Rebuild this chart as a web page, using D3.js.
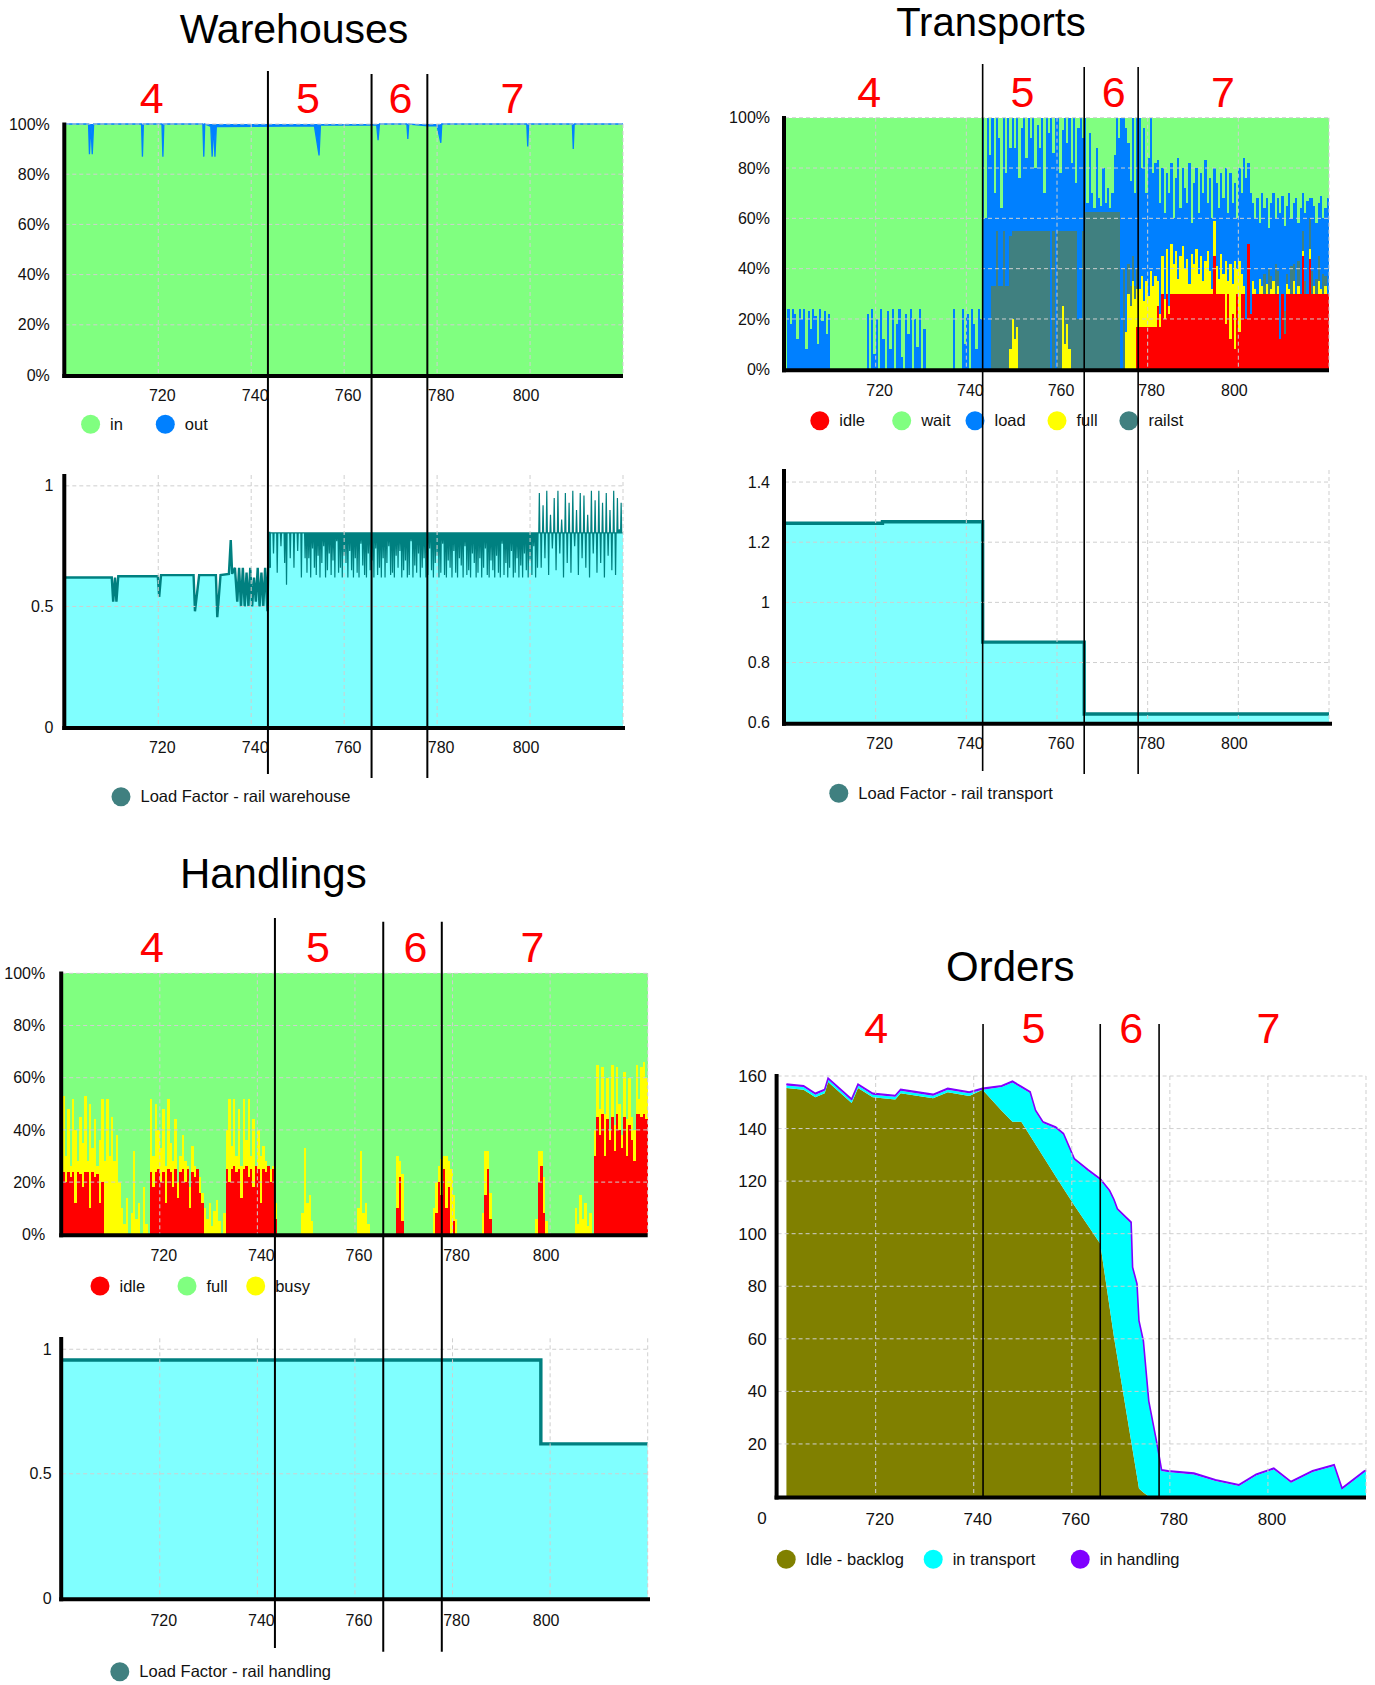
<!DOCTYPE html>
<html>
<head>
<meta charset="utf-8">
<title>Rail simulation - phases 4 to 7</title>
<script src="https://cdn.jsdelivr.net/npm/d3@7"></script>
<style>
  body { margin: 0; background: #fff; }
  svg { display: block; font-family: 'Liberation Sans', Arial, sans-serif; }
  .grid line { stroke: #cfcfcf; stroke-width: 1; stroke-dasharray: 4,3; }
  .axis text { font-family: 'Liberation Sans', Arial, sans-serif; fill: #111; }
</style>
</head>
<body>
<div id="chart"></div>
<script>
/// colours ////////////////////////////////
const GREEN = '#80ff80'
const BLUE = '#0080ff'
const RED = '#ff0000'
const YELLOW = '#ffff00'
const RAILST = '#408080'
const CYAN_FILL = '#80ffff'
const TEAL = '#008080'
const OLIVE = '#808000'
const CYAN = '#00ffff'
const PURPLE = '#8000ff'

/// shared time axis ////////////////////////
const xTicks = [720, 740, 760, 780, 800]
const xGridValues = [720, 740, 760, 780, 800, 820]
const phaseNames = ['4', '5', '6', '7']
const gridStep = 0.5
const gridTimes = d3.range(700, 820.001, gridStep) // sampled every half unit

/// Warehouses - share "in" (%), out is the rest //////
const warehouseIn = [
  [700, 100], [705, 100], [705.2, 88], [705.5, 100], [705.8, 88], [706.1, 100],
  [716.4, 100], [716.6, 87], [716.8, 100], [720.8, 100], [721, 87], [721.2, 100],
  [729.6, 100], [729.8, 87], [730, 100], [731.3, 99], [731.6, 87], [731.9, 100],
  [732.2, 87], [732.5, 99], [748, 99.2], [753.6, 99.2], [754.6, 87.5], [754.9, 99.6],
  [767, 99.6], [767.3, 93.5], [767.6, 100], [773.5, 100], [773.7, 94], [773.9, 100],
  [778, 99.3], [780, 99.3], [780.8, 92.5], [781, 100], [799.3, 100], [799.5, 91],
  [799.7, 100], [809.1, 100], [809.3, 90], [809.5, 100], [820, 100]
]

/// Warehouses - load factor //////////////////
const warehouseLoadEarly = [
  [700, 0.62], [710, 0.62], [710.3, 0.52], [710.7, 0.62], [711, 0.52], [711.4, 0.625],
  [719.9, 0.625], [720.2, 0.54], [720.6, 0.63], [727.6, 0.63], [727.9, 0.48], [728.8, 0.63],
  [732.4, 0.63], [732.7, 0.455], [733.4, 0.63], [735.2, 0.635], [735.6, 0.775], [735.9, 0.635],
  [736.5, 0.66], [737, 0.52], [737.4, 0.66], [737.8, 0.5], [738.2, 0.66], [738.6, 0.5],
  [739, 0.64], [739.4, 0.5], [739.8, 0.66], [740.2, 0.5], [740.6, 0.62], [741, 0.52],
  [741.4, 0.66], [741.8, 0.5], [742.2, 0.64], [742.6, 0.5], [743, 0.66], [743.5, 0.48]
]
// from 744 on the factor sits at a plateau with short spikes, one every 0.4 units
const warehousePlateau = 0.805
const warehouseSpikeStart = 744
const warehouseSpikeStep = 0.4
const warehouseSpikes = [
  0.66, 0.805, 0.72, 0.805, 0.64, 0.805, 0.75, 0.805, 0.68, 0.59, 0.805, 0.70, 0.805, 0.66, 0.805, 0.73, 0.805, 0.62, 0.805, 0.70,
  0.64, 0.70, 0.62, 0.74, 0.66, 0.63, 0.71, 0.62, 0.68, 0.75, 0.62, 0.65, 0.72, 0.63, 0.69, 0.62, 0.77, 0.64, 0.66, 0.62, 0.71, 0.68, 0.62, 0.73, 0.65,
  0.62, 0.70, 0.64, 0.62, 0.76, 0.67, 0.63, 0.62, 0.72, 0.65, 0.69, 0.62, 0.74, 0.63, 0.66, 0.62, 0.70, 0.62, 0.68, 0.75, 0.63, 0.64, 0.62, 0.71, 0.66,
  0.73, 0.62, 0.65, 0.69, 0.62, 0.63, 0.77, 0.62, 0.67, 0.64, 0.72, 0.62, 0.66, 0.70, 0.62, 0.63, 0.74, 0.65, 0.62, 0.68, 0.71, 0.62, 0.64, 0.76, 0.63,
  0.62, 0.69, 0.66, 0.62, 0.73, 0.64, 0.62, 0.70, 0.67, 0.62, 0.75, 0.63, 0.65, 0.62, 0.72, 0.68, 0.62, 0.64, 0.70, 0.62, 0.66, 0.74, 0.63, 0.62, 0.69,
  0.65, 0.62, 0.71, 0.64, 0.62, 0.76, 0.63, 0.68, 0.62, 0.66, 0.73, 0.62, 0.64, 0.70, 0.62, 0.67, 0.62, 0.72, 0.65, 0.62, 0.69, 0.63, 0.75, 0.62, 0.66,
  0.97, 0.66, 0.92, 0.70, 0.98, 0.63, 0.88, 0.74, 0.95, 0.65, 0.98, 0.72, 0.86, 0.62, 0.97, 0.68, 0.93, 0.64, 0.98, 0.75, 0.90, 0.63,
  0.97, 0.70, 0.96, 0.66, 0.88, 0.62, 0.98, 0.72, 0.94, 0.64, 0.98, 0.68, 0.93, 0.62, 0.97, 0.71, 0.90, 0.65, 0.98, 0.63, 0.95, 0.82, 0.93
]

/// Transports - state shares (%), [start time, readings every half unit] ////
const transportIdle = [
  [777.5, [17, 17, 17, 17, 17, 17, 17, 17, 17]],
  [782, [25, 17, 30, 20, 30, 22, 30, 30, 30, 30, 30, 30, 30, 30, 30, 30, 30, 30, 30, 30, 30, 30, 30, 30, 30, 45, 30, 30, 30, 30]],
  [797, [18, 30, 12, 22, 8, 30, 15, 30]],
  [801, [30, 20, 50, 22, 30, 30, 30, 30, 30, 30, 30, 30, 30, 30, 30, 30, 12, 30, 14, 30, 30, 30, 30, 30, 30, 30, 45, 30, 30, 44, 30, 30, 30, 30, 30, 30, 30, 30, 30]]
]
const transportFull = [
  [749.5, [8, 20, 12, 17]],
  [761, [25, 10, 18, 8]],
  [775, [15, 30, 25, 35, 28, 15]],
  [778, [15, 20, 10, 18, 12, 22, 16, 20]],
  [782, [10, 5, 15, 8, 18, 3, 20, 12, 17, 6, 15, 19, 10, 14, 4, 16, 12, 18, 8, 15, 5, 13, 17, 9, 2, 14, 11, 6, 16, 8]],
  [797, [25, 5, 30, 12, 35, 10, 28, 8]],
  [801, [3, 0, 0, 0, 5, 2, 0, 6, 3, 0, 4, 0, 2, 5, 0, 3, 0, 0, 0, 4, 2, 0, 5, 0, 3, 0, 2, 0, 0, 4, 0, 3, 0, 5, 2, 0, 3, 0, 4]]
]
const transportRailst = [
  [745.5, [33, 33, 55, 33, 33, 55, 33, 33, 45]],
  [750, [35, 43, 38, 55, 55, 55, 55, 55, 55, 55, 55, 55, 55, 55, 55, 55, 55, 0, 55, 0, 55, 55, 30, 45, 37, 47, 55, 55, 55, 20, 20, 55]],
  [766, [62.5, 62.5, 62.5, 62.5, 62.5, 62.5, 62.5, 62.5, 62.5, 62.5, 62.5, 62.5, 62.5, 62.5, 62.5, 62.5, 0, 40, 0, 12, 8, 10, 5, 8]],
  [805.5, [8, 0, 10, 5, 0, 12, 6, 0, 0, 9, 4, 0, 11, 7, 0, 10, 0, 8, 5, 0, 12, 9, 0, 6, 10, 0, 8, 4, 0]]
]
const transportLoad = [
  [700.5, [24, 18, 24, 22, 12, 24, 20, 24, 8, 23, 16, 24, 21, 10, 24, 19, 23, 14, 22]],
  [718, [22, 0, 24, 6, 20, 0, 24, 12, 0, 23, 8, 24, 0, 18, 24, 5, 0, 22, 14, 24, 0, 20, 9, 24, 0, 16]],
  [737, [24]],
  [739, [24, 10, 22, 0, 24, 18, 8, 24, 20]],
  [743.5, [100, 60, 100, 85]],
  [745.5, [67, 37, 45, 59, 31, 45, 45, 67, 35]],
  [750, [45, 33, 45, 21, 41, 45, 29, 45, 37, 45, 25, 42, 33, 45, 15, 45, 39, 100, 31, 100, 45, 23, 40, 45, 35, 45, 27, 45, 19, 76, 80, 37]],
  [766, [37.5, 3.5, 31.5, 7.5, 1.5, 25.5, 5.5, 2.5, 17.5, 3.5, 9.5, 1.5, 7.5, 22.5, 37.5, 29.5, 100, 60, 81]],
  [775.5, [48, 42, 55, 37, 60]],
  [778, [68, 43, 69, 35, 55, 61, 45, 45]],
  [782, [48, 44, 35, 34, 30, 45, 32, 18, 29, 48, 19, 31, 32, 22, 48, 12, 32, 32, 24, 33, 35, 40, 19, 37, 28, 21, 33, 28, 32, 30]],
  [797, [37, 27, 36, 32, 31, 20, 37, 32]],
  [801, [51, 56, 32, 48, 31, 28, 38, 22, 37, 26, 34, 16, 29, 35, 18, 29, 50, 39, 34, 27, 38, 19, 24, 38, 15, 34, 15, 27, 37, 8, 29, 32, 22, 21, 37, 22, 27, 38, 28]]
]

/// Transports - load factor (steps) ////////
const transportLoadFactor = [[700, 1.263], [721.5, 1.268], [743.6, 0.868], [766, 0.629], [820, 0.629]]

/// Handlings - state shares (%) //////////////
const handlingIdle = [
  [700, [24, 20, 24, 22, 24, 12, 24, 23, 18, 24, 24, 10, 24, 22, 23, 12, 20]],
  [718, [24, 18, 24, 25, 20, 24, 12, 25, 24, 18, 25, 14, 24, 25, 20, 25, 10, 24, 22, 25, 16]],
  [728.5, [12]],
  [733.5, [25, 20, 25, 26, 24, 25, 14, 25, 26, 22, 25, 18, 26, 25, 12, 25, 24, 26, 20, 25, 6]],
  [768.5, [10, 22, 5]],
  [776.5, [8, 20, 15, 25, 10, 18, 0, 5]],
  [786.5, [15, 25, 6]],
  [797.5, [20, 26, 8]],
  [809, [30, 45, 38, 46, 30, 44, 36, 45, 32, 46, 40, 33, 45, 30, 42, 36, 28, 46, 46, 45, 46, 44, 40]]
]
const handlingBusy = [
  [700, [29, 10, 24, 4, 28, 28, 4, 22, 17, 29, 4, 40, 9, 22, 3, 24, 32, 28, 52, 30, 45, 28, 38, 20, 10, 4, 14, 0, 8, 32, 6, 12, 0, 18, 4, 0]],
  [718, [28, 12, 26, 15, 13, 24, 14, 27, 11, 10, 19, 6, 6, 13, 8, 1, 8, 10, 4, 0, 6, 4, 10, 6, 12, 3, 9, 13, 5, 0, 8]],
  [733.5, [15, 32, 9, 26, 6, 23, 12, 27, 10, 30, 5, 26, 0, 15, 18, 9, 4, 0, 5, 1, 6]],
  [749, [8, 33, 12, 15, 5]],
  [760.5, [10, 32, 8, 12, 4]],
  [768.5, [20, 6, 18]],
  [776, [10, 12, 6, 14, 5, 20, 10, 25, 10, 6]],
  [786, [8, 17, 7, 10]],
  [797, [6, 12, 6, 14, 5]],
  [805, [10, 4, 15, 6, 12, 3, 8]],
  [809, [10, 20, 10, 18, 16, 16, 4, 20, 10, 18, 10, 5, 17, 14, 18, 9, 12, 19, 6, 19, 20, 16, 22]]
]

/// Handlings - load factor (steps) /////////
const handlingLoadFactor = [[700, 0.957], [798.1, 0.62], [820, 0.62]]

/// Orders ///////////////////////////////////
const ordersTime = [
  701.8, 705.3, 707.7, 709.6, 710.3, 715.1, 716.4, 719.4, 724, 725.1, 731.7, 734.7, 739.1, 741.8,
  745.7, 747.9, 749.7, 751.5, 752.6, 754.1, 756.7, 758.3, 760.5, 763.3, 765.8,
  767.7, 768.6, 769.3, 772.1, 772.4, 773.3, 773.7, 774.6, 775.7,
  777.4, 778.3, 779.6, 784.9, 789.3, 794.1, 797.6, 801.2, 804.7, 809.1, 813.5, 815.1, 819.6, 820
]
const ordersBacklog = [
  155.4, 154.8, 151.9, 153.4, 157.7, 149.7, 155.4, 151.9, 151.1, 153.4, 151.5, 153.8, 152.4, 154.8,
  146.8, 142.6, 142.6, 137.3, 134, 129.6, 121.9, 117.2, 110.8, 103.1, 96.2,
  72.1, 60.7, 52.8, 21.1, 17.8, 7.6, 3, 1.5, 0,
  0, 0, 0, 0, 0, 0, 0, 0, 0, 0, 0, 0, 0, 0
]
const ordersTransport = [
  1, 1, 1, 1, 1, 1, 1, 1, 1, 1, 1, 1, 1, 0,
  9, 14.9, 12.9, 16.2, 12.5, 12.5, 18.2, 20.4, 17.3, 20.8, 24.2,
  43.9, 51.8, 56.2, 82.8, 68.9, 72.8, 63.4, 57.2, 35.8,
  19.3, 9.7, 9.3, 8.4, 5.9, 4, 8, 10.3, 5.2, 9.3, 11.6, 2.7, 9.1, 9.5
]
const ordersHandling = [
  0.5, 0.5, 0.5, 0.5, 0.5, 0.5, 0.5, 0.5, 0.5, 0.5, 0.5, 0.5, 0.5, 0.5,
  0.5, 0.5, 0.5, 0.5, 0.5, 0.5, 0.5, 0.5, 0.5, 0.5, 0.5,
  0.5, 0.5, 0.5, 0.5, 0.5, 0.5, 0.5, 0.5, 0.5,
  0.5, 0.5, 0.5, 0.5, 0.5, 0.5, 0.5, 0.5, 0.5, 0.5, 0.5, 0.5, 0.5, 0.5
]

/// svg ////////////////////////////////////
const svg = d3.select('#chart').append('svg')
  .attr('width', 1375)
  .attr('height', 1685)

// spread [start, readings] segments over the half-unit time grid
function expand(segments) {
  const values = gridTimes.map(() => 0)
  segments.forEach(([start, vals]) => {
    const i0 = Math.round((start - 700) / gridStep)
    vals.forEach((v, k) => {
      if (i0 + k < values.length) values[i0 + k] = v
    })
  })
  return values
}

function panel(opt) {
  const x = d3.scaleLinear().domain([700, 820]).range([opt.left, opt.right])
  const y = d3.scaleLinear().domain(opt.yDomain).range([opt.bottom, opt.top])
  const g = svg.append('g')
  const marks = g.append('g')
  return { x, y, g, marks, opt }
}

// grid on top of the fills, then axes
function decorate(p) {
  const { x, y, g, opt } = p
  const yBase = y(opt.yDomain[0])
  const fs = opt.fontSize || 16

  const grid = g.append('g').attr('class', 'grid')
  grid.selectAll('line.h').data(opt.yGrid).join('line')
    .attr('class', 'h')
    .attr('x1', x(700)).attr('x2', x(820))
    .attr('y1', d => y(d)).attr('y2', d => y(d))
  grid.selectAll('line.v').data(xGridValues).join('line')
    .attr('class', 'v')
    .attr('x1', d => x(d)).attr('x2', d => x(d))
    .attr('y1', opt.top).attr('y2', yBase)

  g.append('g')
    .attr('class', 'axis')
    .attr('transform', `translate(0,${yBase})`)
    .call(d3.axisBottom(x).tickValues(xTicks).tickSize(0).tickPadding(opt.xPad || 15))
    .call(a => a.select('.domain').remove())
    .call(a => a.selectAll('text')
      .attr('dx', d => (d === 800 && opt.shift800 ? -4.5 : 3.5))
      .style('font-size', fs + 'px'))

  const yAxis = g.append('g')
    .attr('class', 'axis')
    .attr('transform', `translate(${x(700)},0)`)
    .call(d3.axisLeft(y).tickValues(opt.yTicks).tickFormat(opt.yFormat).tickSize(0).tickPadding(opt.yPad || 15))
    .call(a => a.select('.domain').remove())
    .call(a => a.selectAll('text').style('font-size', fs + 'px'))
  if (opt.zeroDrop) {
    yAxis.selectAll('.tick').filter(d => d === 0).select('text').attr('y', opt.zeroDrop)
  }

  g.append('line')
    .attr('x1', x(700) - 1).attr('x2', x(700) - 1)
    .attr('y1', opt.axisTop).attr('y2', yBase + 3)
    .attr('stroke', '#000').attr('stroke-width', 4)
  g.append('line')
    .attr('x1', x(700) - 3).attr('x2', opt.axisRight || x(820))
    .attr('y1', yBase + 1).attr('y2', yBase + 1)
    .attr('stroke', '#000').attr('stroke-width', 4)
}

function phases(p, at, spans, labelAt, labelY, width) {
  const { x } = p
  const pg = svg.append('g')
  pg.selectAll('line').data(at).join('line')
    .attr('x1', d => x(d)).attr('x2', d => x(d))
    .attr('y1', (d, i) => spans[i][0]).attr('y2', (d, i) => spans[i][1])
    .attr('stroke', '#000').attr('stroke-width', width)
  pg.selectAll('text').data(labelAt).join('text')
    .attr('x', d => x(d)).attr('y', labelY)
    .attr('text-anchor', 'middle')
    .attr('fill', RED)
    .attr('font-size', 43)
    .text((d, i) => phaseNames[i])
}

function title(text, cx, baseline, size) {
  svg.append('text')
    .attr('x', cx).attr('y', baseline)
    .attr('text-anchor', 'middle')
    .attr('font-size', size)
    .attr('fill', '#000')
    .text(text)
}

function legend(items, cy) {
  const lg = svg.append('g')
  items.forEach(it => {
    lg.append('circle').attr('cx', it.cx).attr('cy', cy).attr('r', 9.5).attr('fill', it.color)
    lg.append('text')
      .attr('x', it.cx + 19.5).attr('y', cy).attr('dy', '0.35em')
      .attr('font-size', 16.5).attr('fill', '#111')
      .text(it.label)
  })
}

const pct = d => d + '%'
const plain = d3.format('')

/// Warehouses ///////////////////////////////
title('Warehouses', 294, 42.7, 41)

const w1 = panel({
  left: 65.3, right: 623, top: 124, bottom: 375, yDomain: [0, 100],
  yTicks: [0, 20, 40, 60, 80, 100], yGrid: [20, 40, 60, 80, 100], yFormat: pct,
  yPad: 15.5, axisTop: 122.5, shift800: true
})
w1.marks.append('path').datum(warehouseIn)
  .attr('d', d3.area().x(d => w1.x(d[0])).y0(w1.y(0)).y1(d => w1.y(d[1])))
  .attr('fill', GREEN)
w1.marks.append('path').datum(warehouseIn)
  .attr('d', d3.area().x(d => w1.x(d[0])).y0(d => w1.y(d[1])).y1(w1.y(100)))
  .attr('fill', BLUE)
w1.marks.append('path').datum(warehouseIn)
  .attr('d', d3.line().x(d => w1.x(d[0])).y(d => w1.y(d[1])))
  .attr('fill', 'none').attr('stroke', BLUE).attr('stroke-width', 1.3)
decorate(w1)
legend([{ label: 'in', color: GREEN, cx: 90.6 }, { label: 'out', color: BLUE, cx: 165.3 }], 424.3)

const w2 = panel({
  left: 65.3, right: 623, top: 475, bottom: 727, yDomain: [0, 1.045],
  yTicks: [0, 0.5, 1], yGrid: [0.5, 1], yFormat: plain,
  yPad: 12, xPad: 14.5, axisTop: 474, axisRight: 625, shift800: true
})
// each spike leaves the plateau and comes back within a fraction of a unit
const warehouseLate = warehouseSpikes.flatMap((v, i) => {
  const t = warehouseSpikeStart + i * warehouseSpikeStep
  return [[t - 0.12, warehousePlateau], [t, v], [t + 0.12, warehousePlateau]]
})
const warehouseLoad = warehouseLoadEarly
  .concat([[743.8, warehousePlateau]], warehouseLate, [[820, warehousePlateau]])
w2.marks.append('path').datum(warehouseLoad)
  .attr('d', d3.area().x(d => w2.x(d[0])).y0(w2.y(0)).y1(d => w2.y(d[1])))
  .attr('fill', CYAN_FILL)
const wLine = d3.line().x(d => w2.x(d[0])).y(d => w2.y(d[1]))
w2.marks.append('path').datum(warehouseLoad.filter(d => d[0] <= 744))
  .attr('d', wLine).attr('fill', 'none').attr('stroke', TEAL).attr('stroke-width', 2.4)
w2.marks.append('path').datum(warehouseLoad.filter(d => d[0] >= 743.5))
  .attr('d', wLine).attr('fill', 'none').attr('stroke', TEAL).attr('stroke-width', 1.2)
decorate(w2)
legend([{ label: 'Load Factor - rail warehouse', color: RAILST, cx: 121 }], 796.7)

phases(w1, [743.6, 765.9, 777.9], [[71, 774], [74, 778], [74, 778]],
  [718.6, 752.2, 772.1, 796.2], 112.7, 2)

/// Transports ///////////////////////////////
title('Transports', 991, 36, 40)

const t1 = panel({
  left: 785, right: 1329, top: 117.7, bottom: 369.3, yDomain: [0, 100],
  yTicks: [0, 20, 40, 60, 80, 100], yGrid: [20, 40, 60, 80, 100], yFormat: pct,
  yPad: 15, axisTop: 116, shift800: true
})
const tIdle = expand(transportIdle)
const tFull = expand(transportFull)
const tRailst = expand(transportRailst)
const tLoad = expand(transportLoad)
const transportRows = gridTimes.map((t, i) => ({
  t,
  idle: tIdle[i],
  full: tFull[i],
  railst: tRailst[i],
  load: tLoad[i],
  wait: Math.max(0, 100 - tIdle[i] - tFull[i] - tRailst[i] - tLoad[i])
}))
const transportColors = { idle: RED, full: YELLOW, railst: RAILST, load: BLUE, wait: GREEN }
const transportStack = d3.stack().keys(['idle', 'full', 'railst', 'load', 'wait'])(transportRows)
const tArea = d3.area()
  .curve(d3.curveStepAfter)
  .x(d => t1.x(d.data.t))
  .y0(d => t1.y(d[0]))
  .y1(d => t1.y(d[1]))
t1.marks.selectAll('path').data(transportStack).join('path')
  .attr('d', tArea)
  .attr('fill', d => transportColors[d.key])
  .attr('shape-rendering', 'crispEdges')
decorate(t1)
legend([
  { label: 'idle', color: RED, cx: 819.8 },
  { label: 'wait', color: GREEN, cx: 901.7 },
  { label: 'load', color: BLUE, cx: 975 },
  { label: 'full', color: YELLOW, cx: 1057 },
  { label: 'railst', color: RAILST, cx: 1128.9 }
], 420.7)

const t2 = panel({
  left: 785, right: 1329, top: 470, bottom: 722.7, yDomain: [0.6, 1.44],
  yTicks: [0.6, 0.8, 1, 1.2, 1.4], yGrid: [0.8, 1, 1.2, 1.4], yFormat: plain,
  yPad: 15, axisTop: 469, axisRight: 1332, shift800: true
})
t2.marks.append('path').datum(transportLoadFactor)
  .attr('d', d3.area().curve(d3.curveStepAfter).x(d => t2.x(d[0])).y0(t2.y(0.6)).y1(d => t2.y(d[1])))
  .attr('fill', CYAN_FILL)
t2.marks.append('path').datum(transportLoadFactor)
  .attr('d', d3.line().curve(d3.curveStepAfter).x(d => t2.x(d[0])).y(d => t2.y(d[1])))
  .attr('fill', 'none').attr('stroke', TEAL).attr('stroke-width', 3.4)
decorate(t2)
legend([{ label: 'Load Factor - rail transport', color: RAILST, cx: 838.8 }], 793.3)

phases(t1, [743.6, 766, 777.9], [[64, 771], [67, 774], [67, 774]],
  [718.6, 752.4, 772.5, 796.6], 106.7, 1.6)

/// Handlings ////////////////////////////////
title('Handlings', 273.3, 888.3, 42)

const h1 = panel({
  left: 62.2, right: 647.7, top: 973.3, bottom: 1234.3, yDomain: [0, 100],
  yTicks: [0, 20, 40, 60, 80, 100], yGrid: [20, 40, 60, 80, 100], yFormat: pct,
  yPad: 17, axisTop: 971.5, shift800: true
})
const hIdle = expand(handlingIdle)
const hBusy = expand(handlingBusy)
const handlingRows = gridTimes.map((t, i) => ({
  t,
  idle: hIdle[i],
  busy: hBusy[i],
  full: Math.max(0, 100 - hIdle[i] - hBusy[i])
}))
const handlingColors = { idle: RED, busy: YELLOW, full: GREEN }
const handlingStack = d3.stack().keys(['idle', 'busy', 'full'])(handlingRows)
const hArea = d3.area()
  .curve(d3.curveStepAfter)
  .x(d => h1.x(d.data.t))
  .y0(d => h1.y(d[0]))
  .y1(d => h1.y(d[1]))
h1.marks.selectAll('path').data(handlingStack).join('path')
  .attr('d', hArea)
  .attr('fill', d => handlingColors[d.key])
  .attr('shape-rendering', 'crispEdges')
decorate(h1)
legend([
  { label: 'idle', color: RED, cx: 100 },
  { label: 'full', color: GREEN, cx: 187 },
  { label: 'busy', color: YELLOW, cx: 255.7 }
], 1286)

const h2 = panel({
  left: 62.2, right: 647.7, top: 1338.3, bottom: 1598.3, yDomain: [0, 1.044],
  yTicks: [0, 0.5, 1], yGrid: [0.5, 1], yFormat: plain,
  yPad: 10.5, xPad: 16, axisTop: 1337, axisRight: 650, shift800: true
})
h2.marks.append('path').datum(handlingLoadFactor)
  .attr('d', d3.area().curve(d3.curveStepAfter).x(d => h2.x(d[0])).y0(h2.y(0)).y1(d => h2.y(d[1])))
  .attr('fill', CYAN_FILL)
h2.marks.append('path').datum(handlingLoadFactor)
  .attr('d', d3.line().curve(d3.curveStepAfter).x(d => h2.x(d[0])).y(d => h2.y(d[1])))
  .attr('fill', 'none').attr('stroke', TEAL).attr('stroke-width', 3.4)
decorate(h2)
legend([{ label: 'Load Factor - rail handling', color: RAILST, cx: 119.8 }], 1671.7)

phases(h1, [743.6, 765.8, 777.8], [[918, 1648], [921.7, 1651.7], [921.7, 1651.7]],
  [718.4, 752.4, 772.4, 796.4], 961.7, 2)

/// Orders ///////////////////////////////////
title('Orders', 1010.3, 981, 42)

const o = panel({
  left: 777.6, right: 1366, top: 1076, bottom: 1496.5, yDomain: [0, 160],
  yTicks: [0, 20, 40, 60, 80, 100, 120, 140, 160], yGrid: [20, 40, 60, 80, 100, 120, 140, 160],
  yFormat: plain, yPad: 11, xPad: 16, fontSize: 17, axisTop: 1074, zeroDrop: 21.5
})
const orderRows = ordersTime.map((t, i) => ({
  t,
  backlog: ordersBacklog[i],
  transport: ordersTransport[i],
  handling: ordersHandling[i]
}))
const orderColors = { backlog: OLIVE, transport: CYAN, handling: PURPLE }
const orderStack = d3.stack().keys(['backlog', 'transport', 'handling'])(orderRows)
const oArea = d3.area()
  .x(d => o.x(d.data.t))
  .y0(d => o.y(d[0]))
  .y1(d => o.y(d[1]))
o.marks.selectAll('path.layer').data(orderStack).join('path')
  .attr('class', 'layer')
  .attr('d', oArea)
  .attr('fill', d => orderColors[d.key])
o.marks.append('path').datum(orderStack[2])
  .attr('d', d3.line().x(d => o.x(d.data.t)).y(d => o.y(d[1])))
  .attr('fill', 'none').attr('stroke', PURPLE).attr('stroke-width', 1.6)
decorate(o)
legend([
  { label: 'Idle - backlog', color: OLIVE, cx: 786.2 },
  { label: 'in transport', color: CYAN, cx: 933.2 },
  { label: 'in handling', color: PURPLE, cx: 1080.2 }
], 1559.3)

phases(o, [741.9, 765.8, 777.8], [[1024, 1497], [1024, 1497], [1024, 1497]],
  [720.1, 752.2, 772.1, 800.1], 1043.3, 1.6)
</script>
</body>
</html>
